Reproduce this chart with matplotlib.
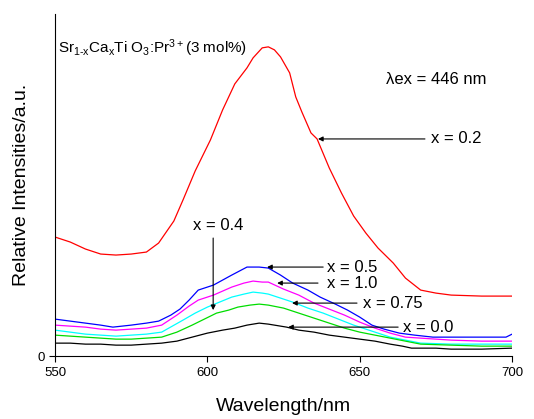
import matplotlib
matplotlib.use('Agg')
import matplotlib.pyplot as plt

plt.rcParams['font.family'] = ['Liberation Sans', 'DejaVu Sans']
plt.rcParams['mathtext.fontset'] = 'custom'
plt.rcParams['mathtext.rm'] = 'Liberation Sans'
plt.rcParams['mathtext.it'] = 'Liberation Sans'

# Emission spectra (relative intensity, arbitrary units)
red_nm = [550, 555, 560, 565, 570, 575, 580, 584, 589, 592, 596, 601, 605, 609, 611,
          613, 615, 618, 620, 622, 624, 627, 629, 631, 634, 636, 640, 644, 648, 652,
          656, 661, 665, 670, 675, 680, 690, 700]
red_val = [119, 114, 107, 102, 101, 102, 104, 113, 135, 156, 185, 216, 246, 272, 280,
           288, 298, 308, 309, 306, 299, 283, 259, 244, 223, 217, 188, 163, 140, 123,
           108, 93, 78, 66, 63, 61, 60, 60]

blue_nm = [550, 555, 560, 565, 569, 575, 580, 584, 588, 591, 594, 597, 602, 608, 613,
           617, 620, 624, 628, 633, 637, 642, 646, 650, 654, 658, 663, 668, 674, 680,
           690, 698, 700]
blue_val = [37, 35, 33, 31, 29, 31, 33, 35, 41, 47, 56, 66, 71, 81, 89,
            89, 88, 81, 73, 66, 59, 52, 46, 39, 31, 27, 23, 21, 19, 19,
            19, 19, 22]

mag_nm = [550, 555, 560, 565, 570, 575, 580, 585, 590, 594, 597, 602, 608, 612, 615,
          618, 620, 625, 630, 635, 640, 645, 650, 655, 660, 665, 670, 680, 690, 700]
mag_val = [31, 30, 29, 27, 26, 27, 28, 31, 41, 50, 56, 61, 69, 73, 75,
           74, 74, 67, 61, 53, 47, 41, 34, 28, 23, 19, 18, 16, 15, 15]

cyan_nm = [550, 555, 560, 565, 570, 575, 580, 585, 592, 596, 600, 604, 608, 612, 615,
           618, 620, 624, 628, 633, 638, 643, 648, 654, 660, 665, 670, 680, 690, 700]
cyan_val = [26, 24, 22, 21, 20, 21, 22, 24, 36, 43, 49, 54, 59, 62, 64,
            63, 62, 58, 54, 48, 43, 37, 31, 25, 19, 16, 13, 12, 12, 12]

green_nm = [550, 555, 560, 565, 570, 575, 580, 585, 590, 595, 599, 603, 607, 610, 614,
            617, 620, 625, 630, 635, 640, 645, 650, 655, 660, 665, 670, 680, 690, 700]
green_val = [21, 20, 19, 18, 17, 17, 18, 19, 24, 31, 37, 43, 46, 49, 51,
             52, 51, 48, 43, 38, 33, 28, 24, 21, 18, 15, 12, 11, 10, 10]

black_nm = [550, 555, 560, 565, 570, 575, 580, 585, 590, 595, 600, 605, 609, 613, 617,
            620, 622, 626, 630, 635, 640, 645, 650, 655, 660, 664, 667, 675, 680, 690, 700]
black_val = [13, 13, 12, 12, 11, 11, 12, 13, 15, 19, 23, 26, 28, 31, 33,
             32, 31, 29, 26, 24, 21, 19, 17, 15, 12, 10, 8, 8, 7, 7, 8]

# label, arrow tail (nm, value), arrow tip (nm), text x (nm)
labels = ['x = 0.2', 'x = 0.5', 'x = 1.0', 'x = 0.75', 'x = 0.0']
tail_nm = [671.4, 638.0, 636.3, 649.1, 662.6]
tip_nm = [636.3, 619.6, 622.9, 627.8, 626.5]
arrow_val = [217, 89, 73, 53, 29]
text_nm = [673.4, 639.3, 639.3, 651.1, 664.2]

fig = plt.figure(figsize=(5.34, 4.19), dpi=100)
ax = fig.add_axes([0.103, 0.150, 0.856, 0.817])

ax.plot(red_nm, red_val, color='red', lw=0.9)
ax.plot(blue_nm, blue_val, color='blue', lw=0.9)
ax.plot(mag_nm, mag_val, color='magenta', lw=0.9)
ax.plot(cyan_nm, cyan_val, color='cyan', lw=0.9)
ax.plot(green_nm, green_val, color='#00dd00', lw=0.9)
ax.plot(black_nm, black_val, color='black', lw=0.9)

ax.set_xlim(550, 700)
ax.set_ylim(0, 342)
ax.set_xticks([550, 600, 650, 700])
ax.set_yticks([0])
ax.tick_params(direction='out', labelsize=9.5, length=4, width=0.8)
for side in ['top', 'right']:
    ax.spines[side].set_visible(False)

ax.set_xlabel('Wavelength/nm', fontsize=14, labelpad=14)
ax.set_ylabel('Relative Intensities/a.u.', fontsize=14, labelpad=5)

arrow = dict(arrowstyle='-|>', color='black', lw=0.8, mutation_scale=7,
             shrinkA=0, shrinkB=0)
for lab, t0, t1, v, tx in zip(labels, tail_nm, tip_nm, arrow_val, text_nm):
    ax.annotate('', xy=(t1, v), xytext=(t0, v), arrowprops=arrow)
    ax.text(tx, v, lab, fontsize=12, ha='left', va='center')

ax.annotate('', xy=(601.9, 46), xytext=(601.9, 118), arrowprops=arrow)
ax.text(603.5, 131, 'x = 0.4', fontsize=12, ha='center', va='center')

ax.text(551, 308, 'Sr$_{\\mathrm{1\u2010x}}$Ca$_{\\mathrm{x}}$Ti O$_{\\mathrm{3}}$:Pr$^{\\mathrm{3+}}$(3 mol%)',
        fontsize=11, ha='left', va='center')
ax.text(658.6, 276, 'λex = 446 nm', fontsize=12, ha='left', va='center')

fig.savefig('out.png', dpi=100)
